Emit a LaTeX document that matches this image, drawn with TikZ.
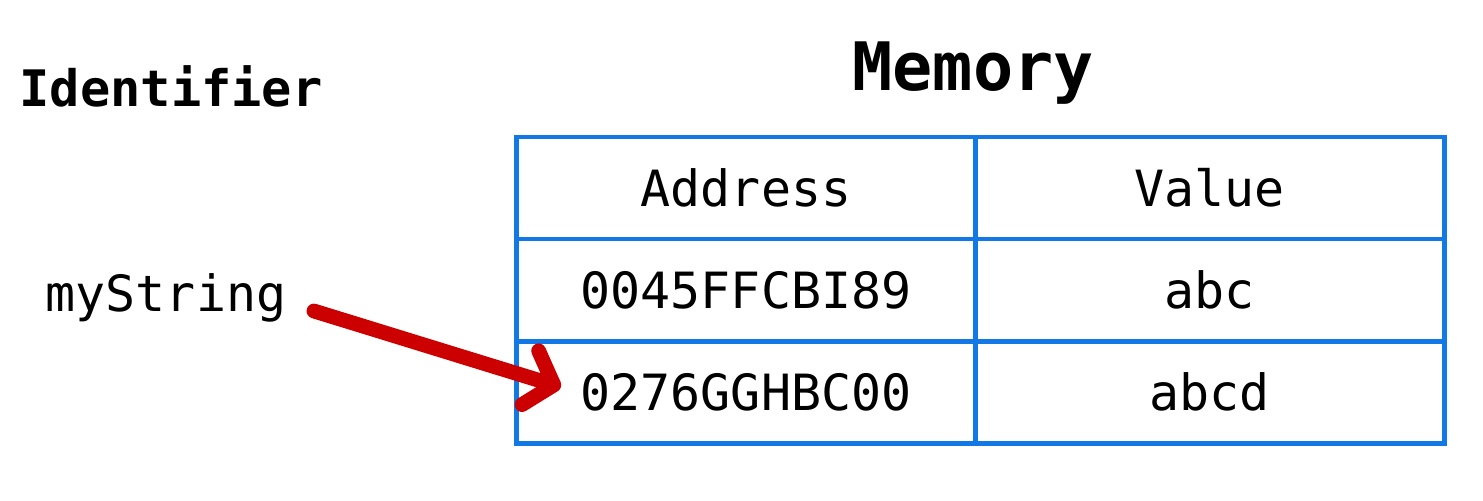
\documentclass[tikz,border=0pt]{standalone}
\usepackage{fontspec}
\usepackage{tikz}
\setmonofont{DejaVu Sans Mono}
\usetikzlibrary{arrows.meta}
\usetikzlibrary{positioning}
\definecolor{tblblue}{rgb}{0.07, 0.47, 0.9}
\definecolor{ptrred}{rgb}{0.8, 0.0, 0.0}
\tikzset{cell/.style = {draw = tblblue, line width = 1.4pt, outer sep = 0, inner sep = 0,
    minimum height = 1.02cm, text height = 10.35pt, text depth = 0pt,
    font = \ttfamily\fontsize{14.2}{17}\selectfont}}
\tikzset{lbl/.style = {inner sep = 0, anchor = base west, font = \ttfamily\fontsize{14.2}{17}\selectfont}}
\tikzset{ptr/.style = {draw = ptrred, line width = 4.2pt, line cap = round,
    -{Straight Barb[length = 7pt, width = 16pt, round]}}}

\begin{document}
\begin{tikzpicture}[x = 0.01cm, y = -0.01cm]
    \useasboundingbox (0, 0) rectangle (1483, 500);
    \node [lbl, font = \ttfamily\bfseries\fontsize{14.3}{17}\selectfont] (ident) at (19, 106) {Identifier};
    \node [inner sep = 0, anchor = base, font = \ttfamily\bfseries\fontsize{19}{22}\selectfont] (memory) at (973, 90) {Memory};
    \node [lbl] (mystring) at (45, 311) {myString};
    \node [cell, minimum width = 4.58cm] (addrhead) at (746, 188) {Address};
    \node [cell, minimum width = 4.69cm, right = 0 of addrhead] (valhead) {Value};
    \node [cell, minimum width = 4.58cm, below = 0 of addrhead] (addr1) {0045FFCBI89};
    \node [cell, minimum width = 4.69cm, right = 0 of addr1] (val1) {abc};
    \node [cell, minimum width = 4.58cm, below = 0 of addr1] (addr2) {0276GGHBC00};
    \node [cell, minimum width = 4.69cm, right = 0 of addr2] (val2) {abcd};
    \draw [ptr] ([xshift = 0.27cm]mystring.base east) -- ([xshift = 0.44cm, yshift = 0.05cm]addr2.west);
  \end{tikzpicture}
\end{document}
